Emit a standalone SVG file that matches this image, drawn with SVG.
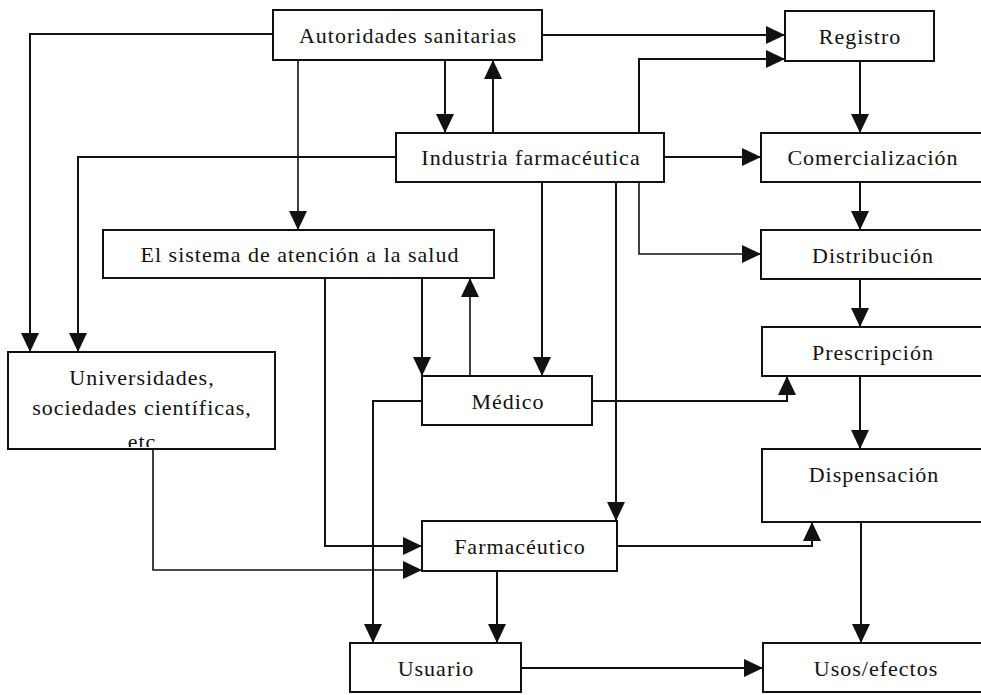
<svg xmlns="http://www.w3.org/2000/svg" width="981" height="695" viewBox="0 0 981 695">
<style>
.box{fill:#fff;stroke:#111;stroke-width:2}
.t{font-family:"Liberation Serif","Times New Roman",serif;font-size:22px;fill:#111;text-anchor:middle;letter-spacing:1px}
.c{fill:none;stroke:#111;stroke-width:2;marker-end:url(#ah)}
</style>
<defs>
<marker id="ah" markerUnits="userSpaceOnUse" markerWidth="19" markerHeight="18" refX="19" refY="9" orient="auto">
<path d="M0,0 L19,9 L0,18 z" fill="#111"/>
</marker>
<clipPath id="clipU"><rect x="9" y="353" width="265" height="94"/></clipPath>
</defs>
<rect width="981" height="695" fill="#fff"/>
<g id="connectors">
<path class="c" d="M273,34 H30 V352"/>
<path class="c" d="M298,60 V230" style="stroke-width:1.6"/>
<path class="c" d="M445,60 V133"/>
<path class="c" d="M493,133 V60"/>
<path class="c" d="M542,35 H785"/>
<path class="c" d="M639,133 V59 H785"/>
<path class="c" d="M396,157 H78 V352"/>
<path class="c" d="M664,157 H761"/>
<path class="c" d="M860,61 V133"/>
<path class="c" d="M860,182 V230"/>
<path class="c" d="M860,279 V327"/>
<path class="c" d="M860,376 V449"/>
<path class="c" d="M861,522 V643"/>
<path class="c" d="M542,182 V376"/>
<path class="c" d="M616,182 V521"/>
<path class="c" d="M639,182 V254 H761" style="stroke-width:1.6"/>
<path class="c" d="M422,278 V376"/>
<path class="c" d="M470,376 V278" style="stroke-width:1.6"/>
<path class="c" d="M325,278 V546 H422"/>
<path class="c" d="M422,401 H373 V643"/>
<path class="c" d="M592,401 H787 V376"/>
<path class="c" d="M153,449 V570 H422" style="stroke-width:1.6"/>
<path class="c" d="M497,571 V643"/>
<path class="c" d="M617,546 H812 V522"/>
<path class="c" d="M521,668 H763"/>
</g>
<g id="autoridades"><rect class="box" x="273" y="10" width="269" height="50"/><text class="t" x="408" y="43">Autoridades sanitarias</text></g>
<g id="registro"><rect class="box" x="785" y="11" width="149" height="50"/><text class="t" x="860" y="44">Registro</text></g>
<g id="industria"><rect class="box" x="396" y="133" width="268" height="49"/><text class="t" x="531" y="165">Industria farmacéutica</text></g>
<g id="comercializacion"><rect class="box" x="761" y="133" width="224" height="49"/><text class="t" x="873" y="165">Comercialización</text></g>
<g id="sistema"><rect class="box" x="103" y="230" width="391" height="48"/><text class="t" x="300" y="262">El sistema de atención a la salud</text></g>
<g id="distribucion"><rect class="box" x="761" y="230" width="224" height="49"/><text class="t" x="873" y="263">Distribución</text></g>
<g id="prescripcion"><rect class="box" x="762" y="327" width="223" height="49"/><text class="t" x="873" y="360">Prescripción</text></g>
<g id="universidades"><rect class="box" x="8" y="352" width="267" height="97"/>
<text class="t" x="142" y="385">Universidades,</text>
<text class="t" x="142" y="415">sociedades científicas,</text>
<text class="t" x="142" y="449" clip-path="url(#clipU)">etc</text></g>
<g id="medico"><rect class="box" x="422" y="376" width="170" height="49"/><text class="t" x="508" y="409">Médico</text></g>
<g id="dispensacion"><rect class="box" x="762" y="449" width="223" height="73"/><text class="t" x="874" y="482">Dispensación</text></g>
<g id="farmaceutico"><rect class="box" x="422" y="521" width="195" height="50"/><text class="t" x="520" y="554">Farmacéutico</text></g>
<g id="usuario"><rect class="box" x="350" y="643" width="171" height="49"/><text class="t" x="436" y="676">Usuario</text></g>
<g id="usos"><rect class="box" x="763" y="643" width="224" height="49"/><text class="t" x="876" y="676">Usos/efectos</text></g>
</svg>
